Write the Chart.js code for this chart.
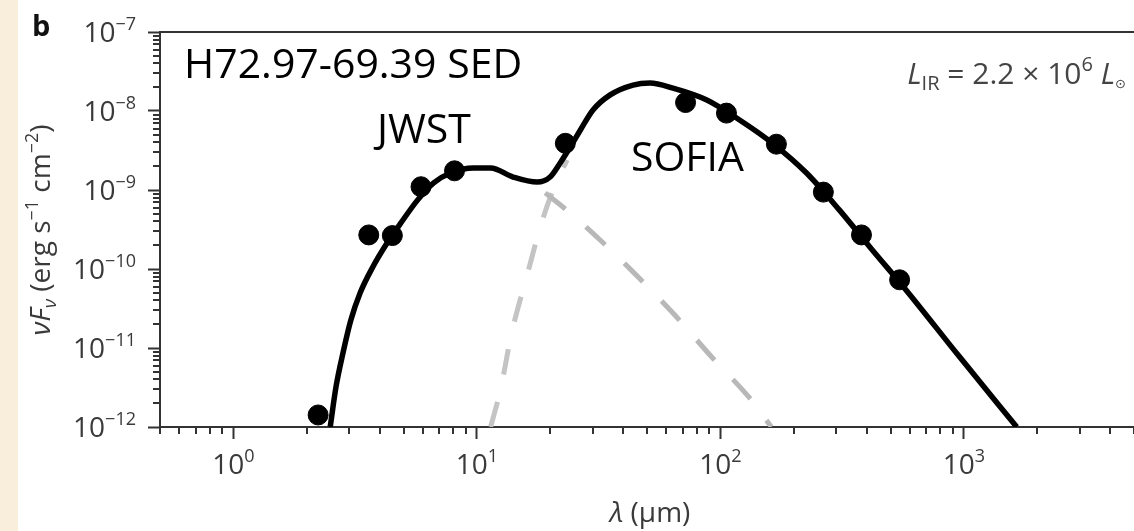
<!DOCTYPE html>
<html>
<head>
<meta charset="utf-8">
<script src="https://cdn.jsdelivr.net/npm/chart.js@4.4.1/dist/chart.umd.min.js"></script>
<style>
  html, body { margin: 0; padding: 0; background: #fff; }
  #wrap { position: relative; width: 1134px; height: 531px; }
  #strip { position: absolute; left: 0; top: 0; width: 18px; height: 531px; background: #f8eedb; }
</style>
</head>
<body>
<div id="wrap">
  <canvas id="sed" width="1134" height="531"></canvas>
  <div id="strip"></div>
</div>
<script>
// observed photometry (wavelength in micron, nuFnu in erg s^-1 cm^-2)
var obsWave = [2.23, 3.6, 4.5, 5.9, 8.1, 23.1, 72, 106, 170, 265, 380, 545];
var obsFlux = [1.42e-12, 2.7e-10, 2.65e-10, 1.1e-9, 1.75e-9, 3.9e-9, 1.28e-8, 9.4e-9, 3.8e-9, 9.4e-10, 2.7e-10, 7.3e-11];

// total model
var modelWave = [2.5, 2.64, 2.82, 3.04, 3.32, 3.74, 4.23, 4.87, 5.72, 6.65, 7.8, 9.69, 11.4, 14.1, 17.7, 20.0, 22.0, 24.2, 26.6, 30.0, 35.3, 43.8, 51.4, 63.9, 88, 120, 164, 226, 308, 421, 580, 955, 1650];
var modelFlux = [1e-12, 3.2e-12, 8.6e-12, 2.26e-11, 5.0e-11, 1.06e-10, 2.01e-10, 3.8e-10, 7.5e-10, 1.23e-9, 1.64e-9, 1.9e-9, 1.9e-9, 1.46e-9, 1.26e-9, 1.46e-9, 2.2e-9, 3.5e-9, 5.7e-9, 1.03e-8, 1.6e-8, 2.13e-8, 2.26e-8, 1.95e-8, 1.38e-8, 7.7e-9, 3.9e-9, 1.64e-9, 5.6e-10, 1.74e-10, 5.4e-11, 7.9e-12, 1e-12];

// warm component (grey dashed, falling)
var warmWave = [19.1, 24.2, 32.1, 43.8, 63.9, 92.2, 132, 162];
var warmFlux = [9.2e-10, 5.1e-10, 2.33e-10, 9.2e-11, 2.77e-11, 7.7e-12, 2.33e-12, 1e-12];

// cold component (grey dashed, rising)
var coldWave = [11.4, 12.5, 14.0, 16.1, 18.6, 21.0, 23.5];
var coldFlux = [1e-12, 2.94e-12, 1.69e-11, 8.4e-11, 4.17e-10, 1.16e-9, 2.4e-9];

var xTickExps = [0, 1, 2, 3];
var yTickExps = [-12, -11, -10, -9, -8, -7];

function pts(xs, ys) {
    return xs.map(function(x, i) { return { x: x, y: ys[i] }; });
}

var FONT = '"Open Sans", "DejaVu Sans", sans-serif';

function drawRich(ctx, segs, x, y, align) {
    var w = 0;
    segs.forEach(function(s) { ctx.font = s.font; s.w = ctx.measureText(s.t).width; w += s.w; });
    var cx = align === 'right' ? x - w : (align === 'center' ? x - w / 2 : x);
    segs.forEach(function(s) {
        ctx.font = s.font;
        ctx.fillText(s.t, cx, y + (s.dy || 0));
        cx += s.w;
    });
}

function expText(e) {
    return String(e).replace('-', '\u2212');
}

var decorations = {
    id: 'decorations',
    afterDraw: function(chart) {
        var ctx = chart.ctx;
        var a = chart.chartArea;
        var xs = chart.scales.x, ys = chart.scales.y;
        ctx.save();

        // top frame line
        ctx.strokeStyle = '#333';
        ctx.lineWidth = 2;
        ctx.beginPath();
        ctx.moveTo(a.left - 1, a.top);
        ctx.lineTo(a.right, a.top);
        ctx.stroke();

        // minor ticks
        ctx.beginPath();
        for (var d = -1; d <= 3; d++) {
            for (var k = 2; k <= 9; k++) {
                var v = k * Math.pow(10, d);
                if (v < xs.min || v > xs.max) continue;
                var px = Math.round(xs.getPixelForValue(v));
                ctx.moveTo(px, a.bottom);
                ctx.lineTo(px, a.bottom + 7);
            }
        }
        for (var d2 = -12; d2 < -7; d2++) {
            for (var k2 = 2; k2 <= 9; k2++) {
                var py = Math.round(ys.getPixelForValue(k2 * Math.pow(10, d2)));
                ctx.moveTo(a.left, py);
                ctx.lineTo(a.left - 7, py);
            }
        }
        ctx.stroke();

        // tick labels
        ctx.fillStyle = '#3a3a3a';
        ctx.textBaseline = 'alphabetic';
        var big = '28px ' + FONT, small = '18px ' + FONT;
        xTickExps.forEach(function(e) {
            var px = xs.getPixelForValue(Math.pow(10, e));
            drawRich(ctx, [{ t: '10', font: big }, { t: expText(e), font: small, dy: -12 }], px, a.bottom + 47, 'center');
        });
        yTickExps.forEach(function(e) {
            var py = ys.getPixelForValue(Math.pow(10, e));
            drawRich(ctx, [{ t: '10', font: big }, { t: expText(e), font: small, dy: -12 }], a.left - 24, py + 10, 'right');
        });

        // axis titles
        drawRich(ctx, [
            { t: '\u03bb', font: 'italic 28px ' + FONT },
            { t: ' (\u03bcm)', font: '28px ' + FONT }
        ], 650, 522, 'center');

        ctx.save();
        ctx.translate(50, 230);
        ctx.rotate(-Math.PI / 2);
        drawRich(ctx, [
            { t: '\u03bdF', font: 'italic 28px ' + FONT },
            { t: '\u03bd', font: 'italic 19px ' + FONT, dy: 6 },
            { t: ' (erg s', font: '28px ' + FONT },
            { t: '\u22121', font: '18px ' + FONT, dy: -12 },
            { t: ' cm', font: '28px ' + FONT },
            { t: '\u22122', font: '18px ' + FONT, dy: -12 },
            { t: ')', font: '28px ' + FONT }
        ], 0, 0, 'center');
        ctx.restore();

        // panel letter
        ctx.fillStyle = '#111';
        ctx.font = 'bold 29px ' + FONT;
        ctx.fillText('b', 32, 36);

        // annotations
        ctx.fillStyle = '#000';
        ctx.font = '41px ' + FONT;
        ctx.fillText('H72.97-69.39 SED', 184, 78);
        ctx.fillText('JWST', 377, 143);
        ctx.fillText('SOFIA', 631, 171);

        ctx.fillStyle = '#444';
        drawRich(ctx, [
            { t: 'L', font: 'italic 30px ' + FONT },
            { t: 'IR', font: '20px ' + FONT, dy: 6 },
            { t: ' = 2.2 \u00d7 10', font: '30px ' + FONT },
            { t: '6', font: '20px ' + FONT, dy: -13 },
            { t: ' L', font: 'italic 30px ' + FONT },
            { t: '\u2299', font: '13px ' + FONT, dy: 4 }
        ], 1126, 84, 'right');

        ctx.restore();
    }
};

new Chart(document.getElementById('sed').getContext('2d'), {
    type: 'scatter',
    plugins: [decorations],
    data: {
        datasets: [
            {
                label: 'points',
                data: pts(obsWave, obsFlux),
                backgroundColor: '#000',
                borderColor: '#000',
                pointRadius: 10,
                order: 0
            },
            {
                label: 'model',
                data: pts(modelWave, modelFlux),
                showLine: true,
                borderColor: '#000',
                borderWidth: 5.5,
                pointRadius: 0,
                cubicInterpolationMode: 'monotone',
                order: 1
            },
            {
                label: 'warm',
                data: pts(warmWave, warmFlux),
                showLine: true,
                borderColor: '#b8b8b8',
                borderWidth: 5,
                borderDash: [26, 27],
                pointRadius: 0,
                tension: 0.4,
                order: 2
            },
            {
                label: 'cold',
                data: pts(coldWave, coldFlux),
                showLine: true,
                borderColor: '#c4c4c4',
                borderWidth: 5,
                borderDash: [26, 28],
                pointRadius: 0,
                tension: 0.4,
                order: 3
            }
        ]
    },
    options: {
        responsive: false,
        animation: false,
        devicePixelRatio: 1,
        layout: { autoPadding: false, padding: { left: 0, top: 32, right: 0, bottom: 0 } },
        plugins: { legend: { display: false }, tooltip: { enabled: false } },
        scales: {
            x: {
                type: 'logarithmic',
                min: 0.5,
                max: 5000,
                afterFit: function(s) { s.height = 104; s.paddingLeft = 0; s.paddingRight = 0; },
                afterBuildTicks: function(s) {
                    s.ticks = xTickExps.map(function(e) { return { value: Math.pow(10, e) }; });
                },
                ticks: { display: false },
                grid: { drawOnChartArea: false, tickLength: 12, tickWidth: 2, tickColor: '#333' },
                border: { color: '#333', width: 2 }
            },
            y: {
                type: 'logarithmic',
                min: 1e-12,
                max: 1e-7,
                afterFit: function(s) { s.width = 160; s.paddingTop = 0; s.paddingBottom = 0; },
                afterBuildTicks: function(s) {
                    s.ticks = yTickExps.map(function(e) { return { value: Math.pow(10, e) }; });
                },
                ticks: { display: false },
                grid: { drawOnChartArea: false, tickLength: 12, tickWidth: 2, tickColor: '#333' },
                border: { color: '#333', width: 2 }
            }
        }
    }
});
</script>
</body>
</html>
